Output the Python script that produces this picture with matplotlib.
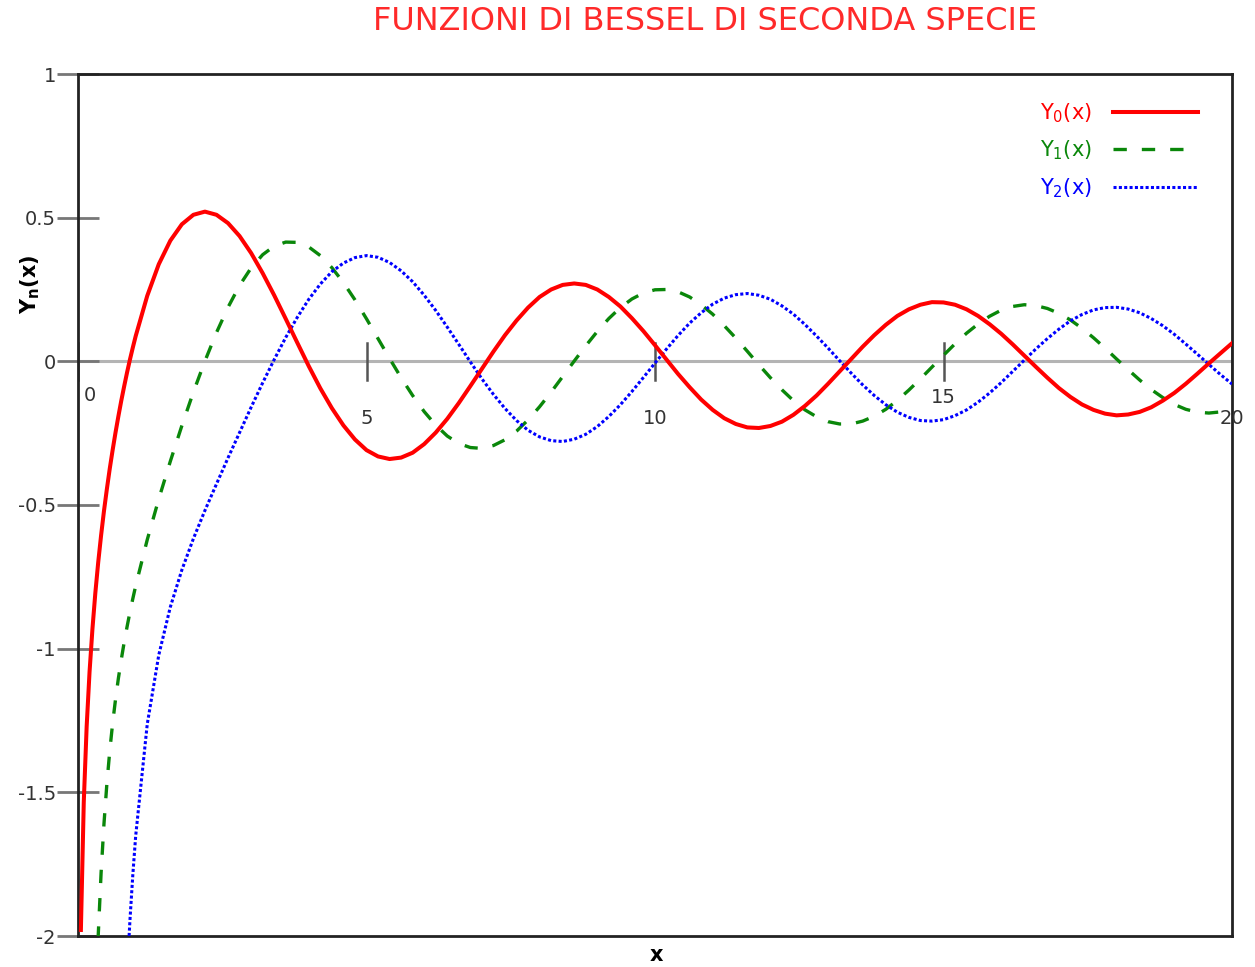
import numpy as np
import matplotlib
matplotlib.use("Agg")
import matplotlib.pyplot as plt

# sample points (x) and values
x = [0.05, 0.1, 0.15, 0.2, 0.25, 0.3, 0.35, 0.4, 0.45, 0.5,
     0.55, 0.6, 0.65, 0.7, 0.75, 0.8, 0.85, 0.9, 0.95, 1.0,
     1.2, 1.4, 1.6, 1.8, 2.0, 2.2, 2.4, 2.6, 2.8, 3.0,
     3.2, 3.4, 3.6, 3.8, 4.0, 4.2, 4.4, 4.6, 4.8, 5.0,
     5.2, 5.4, 5.6, 5.8, 6.0, 6.2, 6.4, 6.6, 6.8, 7.0,
     7.2, 7.4, 7.6, 7.8, 8.0, 8.2, 8.4, 8.6, 8.8, 9.0,
     9.2, 9.4, 9.6, 9.8, 10.0, 10.2, 10.4, 10.6, 10.8, 11.0,
     11.2, 11.4, 11.6, 11.8, 12.0, 12.2, 12.4, 12.6, 12.8, 13.0,
     13.2, 13.4, 13.6, 13.8, 14.0, 14.2, 14.4, 14.6, 14.8, 15.0,
     15.2, 15.4, 15.6, 15.8, 16.0, 16.2, 16.4, 16.6, 16.8, 17.0,
     17.2, 17.4, 17.6, 17.8, 18.0, 18.2, 18.4, 18.6, 18.8, 19.0,
     19.2, 19.4, 19.6, 19.8, 20.0]

y0 = [-1.979, -1.534, -1.271, -1.081, -0.932, -0.807, -0.700, -0.606, -0.521, -0.445,
      -0.374, -0.309, -0.248, -0.191, -0.137, -0.087, -0.039, 0.006, 0.048, 0.088,
      0.228, 0.338, 0.420, 0.477, 0.510, 0.521, 0.510, 0.481, 0.436, 0.377,
      0.307, 0.230, 0.148, 0.065, -0.017, -0.094, -0.163, -0.223, -0.272, -0.309,
      -0.331, -0.340, -0.335, -0.318, -0.288, -0.248, -0.200, -0.145, -0.086, -0.026,
      0.034, 0.091, 0.142, 0.187, 0.224, 0.250, 0.266, 0.271, 0.266, 0.250,
      0.224, 0.191, 0.150, 0.105, 0.056, 0.006, -0.044, -0.090, -0.133, -0.169,
      -0.198, -0.218, -0.230, -0.232, -0.225, -0.210, -0.186, -0.155, -0.119, -0.078,
      -0.035, 0.008, 0.051, 0.091, 0.127, 0.158, 0.181, 0.197, 0.206, 0.205,
      0.197, 0.181, 0.158, 0.129, 0.096, 0.059, 0.020, -0.019, -0.057, -0.093,
      -0.124, -0.150, -0.169, -0.182, -0.188, -0.185, -0.176, -0.160, -0.137, -0.110,
      -0.078, -0.043, -0.007, 0.028, 0.063]

y1 = [-12.79, -6.459, -4.364, -3.324, -2.704, -2.293, -2.000, -1.781, -1.610, -1.471,
      -1.357, -1.260, -1.177, -1.103, -1.038, -0.978, -0.924, -0.873, -0.826, -0.781,
      -0.621, -0.479, -0.348, -0.224, -0.107, 0.001, 0.100, 0.188, 0.264, 0.325,
      0.371, 0.401, 0.415, 0.414, 0.398, 0.368, 0.326, 0.274, 0.214, 0.148,
      0.079, 0.010, -0.057, -0.119, -0.175, -0.222, -0.260, -0.286, -0.300, -0.303,
      -0.293, -0.273, -0.243, -0.204, -0.158, -0.107, -0.053, 0.001, 0.054, 0.104,
      0.149, 0.187, 0.217, 0.238, 0.249, 0.250, 0.242, 0.224, 0.197, 0.164,
      0.124, 0.081, 0.035, -0.012, -0.057, -0.099, -0.137, -0.169, -0.193, -0.210,
      -0.218, -0.218, -0.208, -0.191, -0.167, -0.136, -0.100, -0.061, -0.020, 0.021,
      0.061, 0.098, 0.130, 0.157, 0.178, 0.191, 0.197, 0.194, 0.184, 0.167,
      0.144, 0.115, 0.082, 0.046, 0.008, -0.029, -0.065, -0.098, -0.126, -0.150,
      -0.167, -0.177, -0.180, -0.176, -0.166]

y2 = [-509.615, -127.645, -56.912, -32.157, -20.701, -14.480, -10.731, -8.298, -6.632, -5.441,
      -4.561, -3.893, -3.373, -2.961, -2.630, -2.359, -2.134, -1.946, -1.787, -1.651,
      -1.263, -1.022, -0.855, -0.726, -0.617, -0.519, -0.427, -0.336, -0.248, -0.160,
      -0.075, 0.006, 0.083, 0.153, 0.216, 0.269, 0.312, 0.342, 0.361, 0.368,
      0.362, 0.344, 0.315, 0.277, 0.230, 0.177, 0.119, 0.059, -0.002, -0.061,
      -0.115, -0.164, -0.206, -0.240, -0.263, -0.276, -0.279, -0.271, -0.254, -0.227,
      -0.192, -0.151, -0.105, -0.056, -0.006, 0.043, 0.090, 0.133, 0.169, 0.199,
      0.220, 0.232, 0.236, 0.230, 0.216, 0.193, 0.164, 0.128, 0.088, 0.046,
      0.002, -0.041, -0.082, -0.119, -0.151, -0.177, -0.195, -0.206, -0.208, -0.203,
      -0.189, -0.169, -0.142, -0.110, -0.074, -0.035, 0.004, 0.043, 0.079, 0.112,
      0.141, 0.163, 0.179, 0.187, 0.188, 0.182, 0.169, 0.149, 0.124, 0.094,
      0.060, 0.025, -0.011, -0.046, -0.079]

x_ticks = [0, 5, 10, 15, 20]
x_tick_labels = ["0", "5", "10", "15", "20"]
y_ticks = [1, 0.5, 0, -0.5, -1, -1.5, -2]
y_tick_labels = ["1", "0.5", "0", "-0.5", "-1", "-1.5", "-2"]
labels = [r"$\mathregular{Y_0(x)}$", r"$\mathregular{Y_1(x)}$", r"$\mathregular{Y_2(x)}$"]

fig = plt.figure(figsize=(12.55, 9.67), dpi=100)
ax = fig.add_axes([78/1255, 1-936/967, (1232-78)/1255, (936-74)/967])
ax.set_xlim(0, 20)
ax.set_ylim(-2, 1)

# x axis drawn along y=0, gnuplot style
ax.axhline(0, color="#b4b4b4", lw=2.2, zorder=1)
for xt in x_ticks:
    ax.plot([xt, xt], [-0.065, 0.065], color="#555555", lw=1.8, zorder=2)
lab_y = [-0.118, -0.2, -0.2, -0.125, -0.2]
lab_dx = [0.2, 0, 0, 0, 0]
for xt, txt, ly, dx in zip(x_ticks, x_tick_labels, lab_y, lab_dx):
    ax.text(xt + dx, ly, txt, ha="center", va="center", fontsize=14, color="#333333")

ax.plot(x, y0, color="#ff0000", lw=2.9, label=labels[0], zorder=4)
ax.plot(x, y1, color="#0a870a", lw=2.4, linestyle=(0, (4.0, 4.5)), label=labels[1], zorder=3)
ax.plot(x, y2, color="#0000ff", lw=2.2, linestyle=(0, (1, 0.75)), label=labels[2], zorder=3)

ax.set_xticks([])
ax.set_yticks(y_ticks)
ax.set_yticklabels(y_tick_labels)
ax.tick_params(axis="y", direction="inout", length=30, width=2, color="#777777",
               labelsize=14, labelcolor="#333333", pad=1)
for s in ax.spines.values():
    s.set_linewidth(2)
    s.set_color("#222222")

leg = ax.legend(loc="upper right", bbox_to_anchor=(0.987, 0.99), frameon=False, markerfirst=False,
                labelcolor="linecolor", fontsize=15, handlelength=4.1, handletextpad=1.0,
                labelspacing=0.66)

ax.set_ylabel(r"$\mathbf{Y_n(x)}$", fontsize=15)
ax.yaxis.set_label_coords(-0.031, 0.756)
ax.set_xlabel("x", fontsize=15, fontweight="bold")
ax.xaxis.set_label_coords(0.501, -0.011)

fig.text(705/1255, 1-22/967, "FUNZIONI DI BESSEL DI SECONDA SPECIE", color="#ff2a2a",
         fontsize=23, ha="center", va="center")
fig.savefig("out.png")
